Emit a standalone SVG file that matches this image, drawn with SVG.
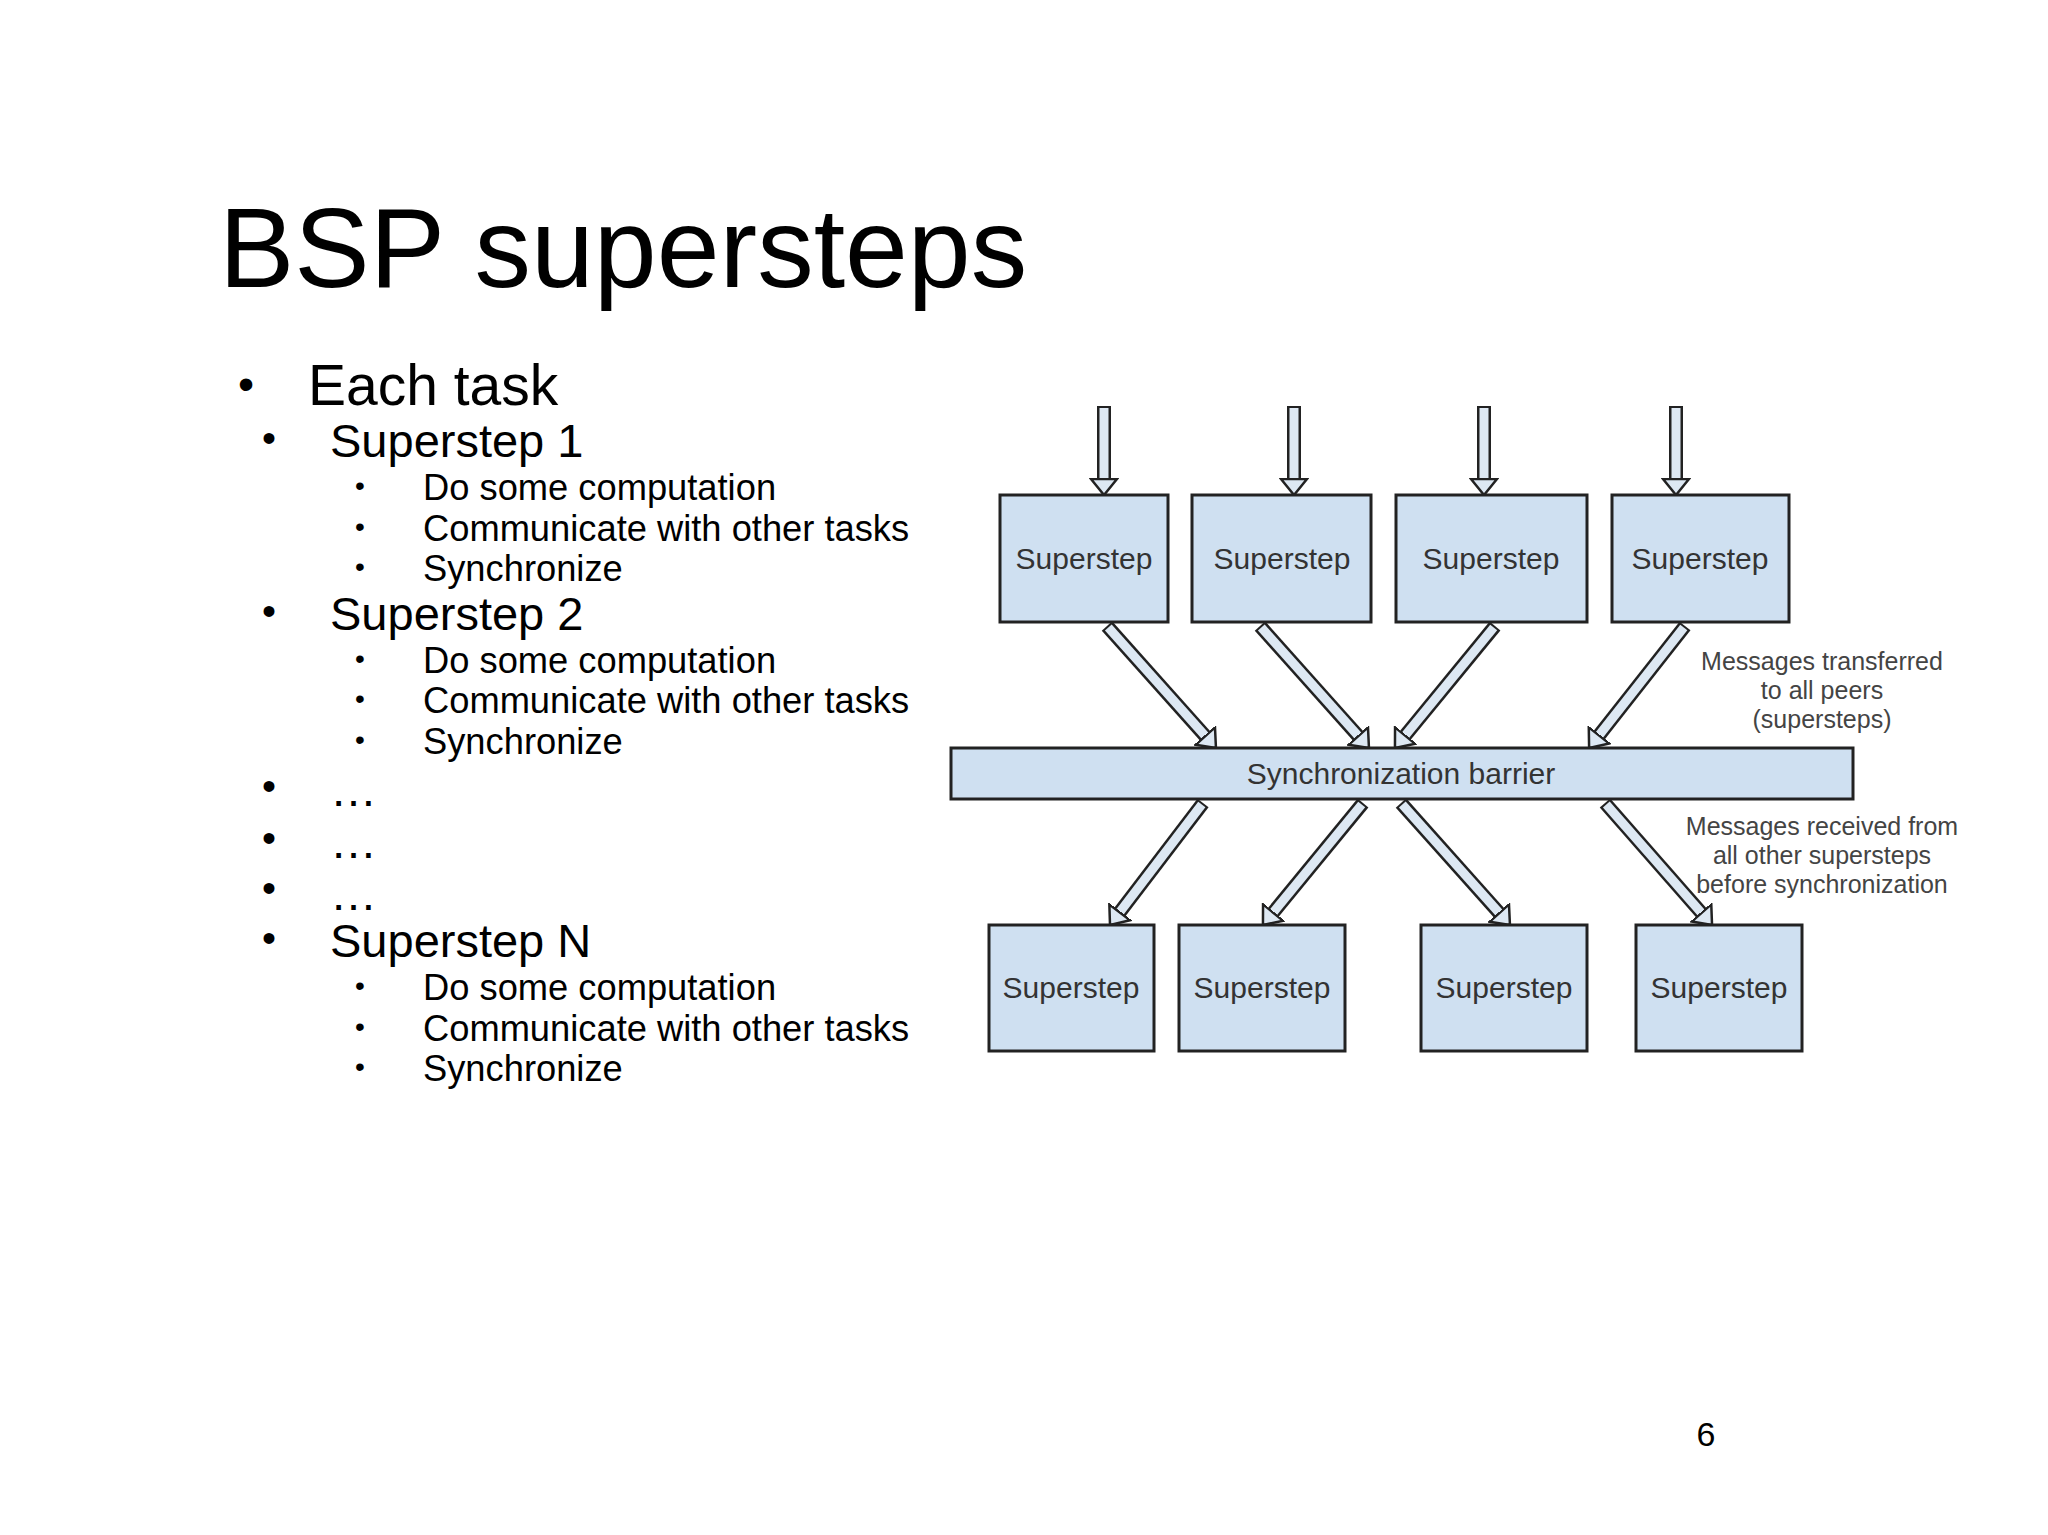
<svg xmlns="http://www.w3.org/2000/svg" width="2048" height="1535" viewBox="0 0 2048 1535">
<style>
.t{font-family:"Liberation Sans",Arial,sans-serif;fill:#000}
.box{fill:#cfe0f1;stroke:#222;stroke-width:3}
.lb{font-family:"Liberation Sans",Arial,sans-serif;font-size:30px;fill:#333;text-anchor:middle}
.an{font-family:"Liberation Sans",Arial,sans-serif;font-size:25px;fill:#444;text-anchor:middle}
.o{stroke:#222;stroke-width:14;fill:none}
.i{stroke:#dde8f3;stroke-width:9;fill:none;marker-end:url(#h)}
</style>
<defs>
<marker id="h" markerUnits="userSpaceOnUse" viewBox="0 0 20 30" markerWidth="20" markerHeight="30" refX="1" refY="15" orient="auto">
<path d="M1 2 L17 15 L1 28 Z" fill="#dde8f3" stroke="#222" stroke-width="2.5" stroke-linejoin="miter"/>
</marker>
</defs>
<rect width="2048" height="1535" fill="#fff"/>
<text class="t" x="219" y="287" font-size="113">BSP supersteps</text>
<g class="t">
<text x="238" y="400" font-size="46">•</text><text x="308" y="405" font-size="57">Each task</text>
<g font-size="40"><text x="262" y="452">•</text><text x="330" y="457" font-size="47">Superstep 1</text>
<text x="262" y="625">•</text><text x="330" y="630" font-size="47">Superstep 2</text>
<text x="262" y="800">•</text><text x="330" y="806" font-size="47">…</text>
<text x="262" y="852">•</text><text x="330" y="858" font-size="47">…</text>
<text x="262" y="902">•</text><text x="330" y="910" font-size="47">…</text>
<text x="262" y="952">•</text><text x="330" y="957" font-size="47">Superstep N</text></g>
<g font-size="36.3">
<text x="355" y="495" font-size="28">•</text><text x="423" y="500">Do some computation</text>
<text x="355" y="536" font-size="28">•</text><text x="423" y="541">Communicate with other tasks</text>
<text x="355" y="576" font-size="28">•</text><text x="423" y="581">Synchronize</text>
<text x="355" y="668" font-size="28">•</text><text x="423" y="673">Do some computation</text>
<text x="355" y="708" font-size="28">•</text><text x="423" y="713">Communicate with other tasks</text>
<text x="355" y="749" font-size="28">•</text><text x="423" y="754">Synchronize</text>
<text x="355" y="995" font-size="28">•</text><text x="423" y="1000">Do some computation</text>
<text x="355" y="1036" font-size="28">•</text><text x="423" y="1041">Communicate with other tasks</text>
<text x="355" y="1076" font-size="28">•</text><text x="423" y="1081">Synchronize</text>
</g>
<text x="1706" y="1446" font-size="34" text-anchor="middle">6</text>
</g>
<g id="connectors">
<line class="o" x1="1104" y1="406" x2="1104" y2="479"/><line class="i" x1="1104" y1="408" x2="1104" y2="479"/>
<line class="o" x1="1294" y1="406" x2="1294" y2="479"/><line class="i" x1="1294" y1="408" x2="1294" y2="479"/>
<line class="o" x1="1484" y1="406" x2="1484" y2="479"/><line class="i" x1="1484" y1="408" x2="1484" y2="479"/>
<line class="o" x1="1676" y1="406" x2="1676" y2="479"/><line class="i" x1="1676" y1="408" x2="1676" y2="479"/>
<line class="o" x1="1107" y1="626" x2="1205.3" y2="736.1"/><line class="i" x1="1108.3" y1="627.5" x2="1205.3" y2="736.1"/>
<line class="o" x1="1260" y1="626" x2="1358.3" y2="736.1"/><line class="i" x1="1261.3" y1="627.5" x2="1358.3" y2="736.1"/>
<line class="o" x1="1495" y1="626" x2="1405.1" y2="735.6"/><line class="i" x1="1493.7" y1="627.5" x2="1405.1" y2="735.6"/>
<line class="o" x1="1685" y1="626" x2="1599" y2="735.4"/><line class="i" x1="1683.8" y1="627.5" x2="1599" y2="735.4"/>
<line class="o" x1="1203" y1="803" x2="1119.7" y2="912.3"/><line class="i" x1="1201.8" y1="804.5" x2="1119.7" y2="912.3"/>
<line class="o" x1="1363" y1="803" x2="1273.1" y2="912.6"/><line class="i" x1="1361.7" y1="804.5" x2="1273.1" y2="912.6"/>
<line class="o" x1="1401" y1="803" x2="1499.3" y2="913.1"/><line class="i" x1="1402.3" y1="804.5" x2="1499.3" y2="913.1"/>
<line class="o" x1="1605" y1="803" x2="1701.5" y2="913"/><line class="i" x1="1606.3" y1="804.5" x2="1701.5" y2="913"/>
</g>
<g id="t1"><rect class="box" x="1000" y="495" width="168" height="127"/><text class="lb" x="1084" y="569">Superstep</text></g>
<g id="t2"><rect class="box" x="1192" y="495" width="179" height="127"/><text class="lb" x="1282" y="569">Superstep</text></g>
<g id="t3"><rect class="box" x="1396" y="495" width="191" height="127"/><text class="lb" x="1491" y="569">Superstep</text></g>
<g id="t4"><rect class="box" x="1612" y="495" width="177" height="127"/><text class="lb" x="1700" y="569">Superstep</text></g>
<g id="barrier"><rect class="box" x="951" y="748" width="902" height="51"/><text class="lb" x="1401" y="784">Synchronization barrier</text></g>
<g id="b1"><rect class="box" x="989" y="925" width="165" height="126"/><text class="lb" x="1071" y="998">Superstep</text></g>
<g id="b2"><rect class="box" x="1179" y="925" width="166" height="126"/><text class="lb" x="1262" y="998">Superstep</text></g>
<g id="b3"><rect class="box" x="1421" y="925" width="166" height="126"/><text class="lb" x="1504" y="998">Superstep</text></g>
<g id="b4"><rect class="box" x="1636" y="925" width="166" height="126"/><text class="lb" x="1719" y="998">Superstep</text></g>
<g id="note1"><text class="an" x="1822" y="670">Messages transferred</text><text class="an" x="1822" y="699">to all peers</text><text class="an" x="1822" y="728">(supersteps)</text></g>
<g id="note2"><text class="an" x="1822" y="835">Messages received from</text><text class="an" x="1822" y="864">all other supersteps</text><text class="an" x="1822" y="893">before synchronization</text></g>
</svg>
